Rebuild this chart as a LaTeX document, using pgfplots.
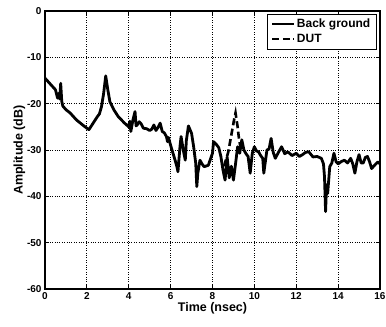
\documentclass[border=0pt]{standalone}
\usepackage{pgfplots}
\pgfplotsset{compat=1.18}
\usepackage{fontspec}
\setmainfont{Liberation Sans}
\usetikzlibrary{calc}
\begin{document}
\begin{tikzpicture}
\begin{axis}[name=ax,
  scale only axis, width=335pt, height=278pt,
  xmin=0, xmax=16, ymin=-60, ymax=0,
  xtick={0,2,...,16}, ytick={-60,-50,...,0},
  grid=major, major grid style={black, dotted, line width=0.9pt},
  axis line style={black, line width=1.1pt},
  tick style={black, line width=0.9pt},
  tick align=inside,
  /pgf/number format/assume math mode=true,
  ticklabel style={font=\bfseries\fontsize{10}{11}\selectfont},
  xlabel={\bfseries Time (nsec)}, ylabel={\bfseries Amplitude (dB)},
  label style={font=\bfseries\fontsize{12.5}{13}\selectfont},
  xlabel style={yshift=4pt}, ylabel style={yshift=-5pt},
  legend style={at={(0.99,0.99)}, anchor=north east, draw=black, line width=0.7pt,
    font=\bfseries\fontsize{12}{13}\selectfont, inner xsep=4pt, inner ysep=3pt, row sep=1pt},
  legend image code/.code={\draw[#1, line width=2.4pt] (0cm,0cm) -- (0.75cm,0cm);},
  legend cell align=left,
]
\addplot[black, line width=2.8pt, line join=round] coordinates {
(0,-14.5)(0.3,-16)(0.5,-17)(0.6,-18.8)(0.65,-17.8)(0.7,-19)(0.75,-15.6)(0.8,-19.5)(0.85,-20.5)(1.0,-21.3)
(1.2,-22)(1.5,-23.5)(1.8,-24.6)(2.0,-25.3)(2.1,-25.6)(2.3,-24.2)(2.5,-22.8)(2.6,-22.2)(2.7,-20.6)(2.8,-17.8)
(2.9,-14.0)(3.0,-17)(3.1,-19.6)(3.3,-21.4)(3.5,-22.8)(3.8,-24.2)(4.0,-25)(4.05,-23.8)(4.1,-26)(4.2,-23.5)
(4.3,-21.7)(4.35,-24.8)(4.4,-24.6)(4.5,-23.9)(4.6,-24.4)(4.7,-25.3)(4.85,-25.4)(5.0,-25.8)(5.1,-25.5)(5.2,-24.6)(5.3,-25.8)(5.4,-25.1)(5.5,-24.2)
(5.6,-26)(5.7,-26.3)(5.8,-27.1)(5.85,-28.2)(5.9,-27.3)(6.0,-29)(6.1,-30.5)(6.2,-32)(6.3,-33.6)(6.35,-34.7)(6.45,-29.1)
(6.5,-27.1)(6.6,-29.9)(6.7,-32.2)(6.75,-28)(6.85,-24.8)(7.0,-26.4)(7.1,-29.3)(7.2,-32.9)
(7.25,-37.9)(7.3,-35)(7.4,-32.2)(7.5,-33)(7.6,-33.6)(7.8,-33.3)(7.9,-32)(8.0,-30.7)(8.05,-28.2)
(8.2,-28.9)(8.3,-29.5)(8.4,-31.4)(8.5,-34.3)(8.6,-36.5)(8.7,-31.5)(8.8,-36)(8.9,-33.5)(9.0,-36.5)
(9.1,-33)(9.2,-29.3)(9.3,-30.7)(9.4,-27.8)(9.5,-30)(9.6,-30.8)(9.7,-31.4)(9.8,-35)(9.9,-30.7)
(10.0,-29.3)(10.1,-30.2)(10.2,-30.4)(10.3,-31.2)(10.4,-31.8)(10.45,-35)(10.6,-30)(10.7,-29.8)(10.8,-27.5)(10.9,-30.5)(11.0,-31.8)
(11.15,-30.5)(11.3,-29.3)(11.45,-30.8)(11.6,-30.4)(11.8,-31.2)(12.0,-30.7)(12.15,-31.4)(12.3,-31)(12.45,-30.5)(12.6,-30.4)(12.8,-31.5)(13.0,-31.4)(13.2,-31.8)
(13.3,-33)(13.35,-35.8)(13.4,-43.3)(13.45,-37.5)(13.5,-39.4)(13.6,-33.6)(13.7,-32.8)(13.8,-30.7)(13.9,-32.5)(14.0,-33)
(14.15,-32.5)(14.3,-32.2)(14.45,-32.8)(14.6,-31.8)(14.7,-33)(14.8,-35)(14.9,-32.5)(15.0,-31)(15.1,-32.8)(15.2,-32.8)(15.3,-31.6)(15.4,-31.4)(15.5,-32.5)(15.6,-34)(15.7,-33.5)(15.8,-33)(15.9,-32.6)(16,-33)
};
\addlegendentry{Back ground}
\addplot[black, line width=2.6pt, dash pattern=on 7pt off 3.5pt] coordinates {
(8.55,-33.5)(8.65,-32)(8.75,-30.5)(8.85,-28)(8.95,-25.5)(9.05,-23)(9.1,-22)(9.2,-25)(9.25,-27)(9.32,-29)(9.4,-29.5)
};
\addlegendentry{DUT}
\end{axis}
\pgfresetboundingbox
\path ($(ax.south west)+(-45pt,-38pt)$) rectangle ($(ax.north east)+(6pt,11pt)$);
\end{tikzpicture}
\end{document}
